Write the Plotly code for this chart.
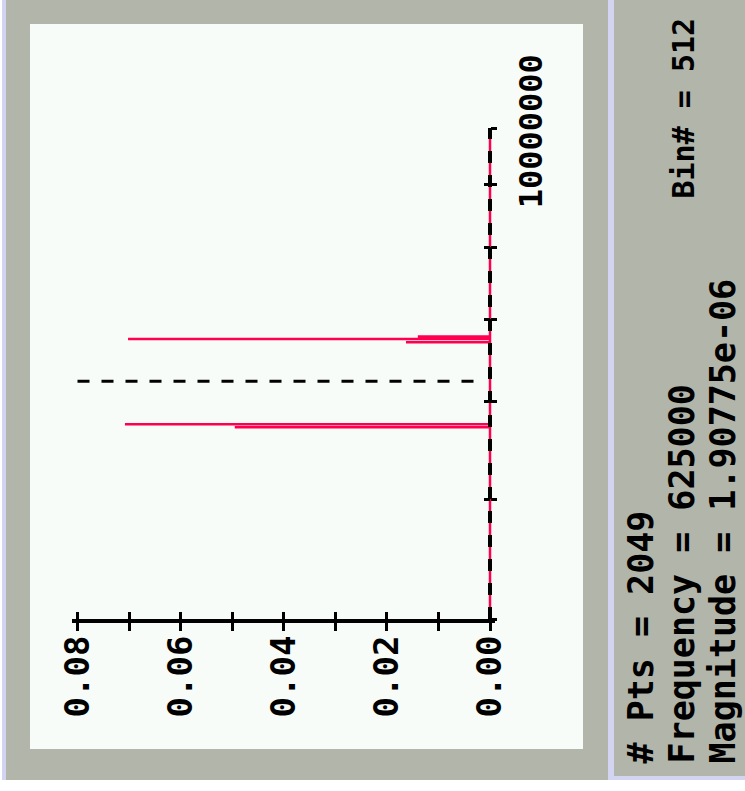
import math
import plotly.graph_objects as go

# ---------------- data ----------------
freq_hz = [4.0e6,
           5.7206e6, 5.7206e6, 5.7206e6,
           5.7527e6, 5.7527e6, 5.7527e6,
           6.705e6, 6.705e6, 6.705e6,
           6.745e6, 6.745e6, 6.745e6,
           6.777e6, 6.777e6, 6.777e6,
           10.0e6]
magnitude = [0.0,
             0.0, 0.0495, 0.0,
             0.0, 0.0708, 0.0,
             0.0, 0.0163, 0.0,
             0.0, 0.0702, 0.0,
             0.0, 0.0140, 0.0,
             0.0]
cursor_freq = 6.235e6
cursor_mag = [0.08, 0.0021]

mag_ticks = [0.00, 0.01, 0.02, 0.03, 0.04, 0.05, 0.06, 0.07, 0.08]
mag_ticklabels = ["0.00", "", "0.02", "", "0.04", "", "0.06", "", "0.08"]
freq_ticks = [4e6, 5e6, 6e6, 7e6, 8e6, 9e6, 10e6]
freq_ticklabels = ["", "", "", "", "", "", "10000000"]

info_pts = "# Pts = 2049"
info_freq = "Frequency = 625000"
info_mag = "Magnitude = 1.90775e-06"
info_bin = "Bin# = 512"

# ---------------- style ----------------
W, H = 745, 791
ML, MR, MT, MB = 30, 162, 24, 42
PW, PH = W - ML - MR, H - MT - MB
GRAY = "#b2b5aa"
LAV = "#d3d3f2"
PLOTBG = "#f8fcf8"
RED = "#ff0050"
XFONT = dict(family="DejaVu Sans Mono", size=34, color="black", weight="bold")
YFONT = dict(family="DejaVu Sans Mono", size=32, color="black", weight="bold")


def px2x(px):
    return (px - ML) / PW


def py2y(py):
    return (H - MB - py) / PH


# magnitude axis (horizontal, reversed)
mag_lo_px, mag_hi_px = 490.0, 77.5      # pixel of 0.00 and 0.08
ppu = (mag_lo_px - mag_hi_px) / mag_ticks[-1]
pad = 0.001
x_range = [mag_ticks[-1] + pad, -pad]
x_dom = [px2x(mag_hi_px - pad * ppu), px2x(mag_lo_px + pad * ppu)]
yaxis_pos = px2x(mag_lo_px)

# frequency axis (vertical, log)
y_dom = [py2y(619), py2y(128)]
y_range = [math.log10(freq_ticks[0]), math.log10(freq_ticks[-1])]

fig = go.Figure()

# spectrum
fig.add_trace(go.Scatter(x=magnitude, y=freq_hz, mode="lines",
                         line=dict(color=RED, width=2.5), hoverinfo="skip"))
# dashed black overlay along the frequency axis
fig.add_trace(go.Scatter(x=[0, 0], y=[freq_ticks[0], freq_ticks[-1]], mode="lines",
                         line=dict(color="black", width=4, dash="12px,12px"),
                         hoverinfo="skip"))
# cursor
fig.add_trace(go.Scatter(x=cursor_mag, y=[cursor_freq, cursor_freq], mode="lines",
                         line=dict(color="black", width=3, dash="12px,12px"),
                         xaxis="x2", yaxis="y2", hoverinfo="skip"))

axis_common = dict(showgrid=False, zeroline=False, tickcolor="black", tickwidth=3,
                   automargin=False)

shapes = []


def rect(x0, y0, x1, y1, color):
    shapes.append(dict(type="rect", xref="paper", yref="paper",
                       x0=px2x(x0), x1=px2x(x1), y0=py2y(y1), y1=py2y(y0),
                       fillcolor=color, line=dict(width=0), layer="below"))


rect(2, 0, 608, 780, LAV)
rect(6, 0, 608, 780, GRAY)
rect(608, 0, 614, 780, LAV)
rect(614, 0, 760, 780, LAV)
rect(614, 0, 760, 776, GRAY)
rect(ML, MT, ML + PW, MT + PH, PLOTBG)

ann_font = dict(family="DejaVu Sans Mono", size=35, color="black", weight="bold")
bin_font = dict(family="DejaVu Sans Mono", size=30, color="black", weight="bold")
annotations = [
    dict(text=info_pts, x=px2x(641), y=py2y(766), xanchor="center", yanchor="bottom",
         font=ann_font),
    dict(text=info_freq, x=px2x(682), y=py2y(766), xanchor="center", yanchor="bottom",
         font=ann_font),
    dict(text=info_mag, x=px2x(723), y=py2y(766), xanchor="center", yanchor="bottom",
         font=ann_font),
    dict(text=info_bin, x=px2x(683), y=py2y(16), xanchor="center", yanchor="top",
         font=bin_font),
]
for a in annotations:
    a.update(xref="paper", yref="paper", showarrow=False, textangle=-90)

fig.update_layout(
    template="none",
    width=W, height=H,
    margin=dict(l=ML, r=MR, t=MT, b=MB, pad=0, autoexpand=False),
    paper_bgcolor="white",
    plot_bgcolor="rgba(0,0,0,0)",
    showlegend=False,
    shapes=shapes,
    annotations=annotations,
    xaxis=dict(domain=x_dom, range=x_range, anchor="y",
               tickvals=mag_ticks, ticktext=mag_ticklabels, tickangle=-90,
               ticks="outside", ticklen=8, showline=True, linecolor="black", linewidth=4,
               tickfont=XFONT, ticklabelstandoff=-9, **axis_common),
    yaxis=dict(domain=y_dom, range=y_range, type="log", anchor="free", position=yaxis_pos,
               side="right", tickvals=freq_ticks, ticktext=freq_ticklabels, tickangle=-90,
               ticks="outside", ticklen=6, showline=False,
               tickfont=YFONT, ticklabelstandoff=7, ticklabelshift=8, **axis_common),
    xaxis2=dict(overlaying="x", range=x_range, anchor="y2", tickvals=mag_ticks,
                ticks="inside", ticklen=7, showticklabels=False, showline=False,
                **axis_common),
    yaxis2=dict(overlaying="y", range=y_range, type="log", anchor="free", position=yaxis_pos,
                side="right", tickvals=freq_ticks, ticks="inside", ticklen=6,
                showticklabels=False, showline=False, **axis_common),
)

fig.write_html("out.html", config={"displayModeBar": False},
               post_script="document.body.style.margin='0';")
